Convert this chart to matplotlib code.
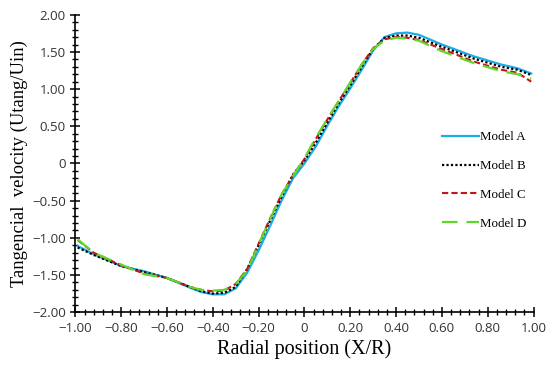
import matplotlib
matplotlib.use("Agg")
import matplotlib.pyplot as plt
from matplotlib.ticker import MultipleLocator, FuncFormatter

# Radial positions and tangential velocity
radial = [-0.99, -0.92, -0.80, -0.70, -0.60, -0.50, -0.45, -0.40, -0.35, -0.30, -0.25, -0.20,
          -0.15, -0.10, -0.05, 0.00, 0.05, 0.10, 0.15, 0.20, 0.25, 0.30, 0.35, 0.40, 0.45,
          0.50, 0.60, 0.74, 0.86, 0.93, 0.99]
model_a = [-1.11, -1.22, -1.38, -1.45, -1.54, -1.67, -1.73, -1.76, -1.76, -1.68, -1.47, -1.17,
           -0.84, -0.50, -0.20, 0.00, 0.23, 0.51, 0.77, 1.01, 1.26, 1.52, 1.70, 1.75, 1.76,
           1.73, 1.60, 1.44, 1.33, 1.28, 1.21]
model_b = [-1.13, -1.23, -1.38, -1.46, -1.54, -1.66, -1.72, -1.75, -1.74, -1.66, -1.42, -1.10,
           -0.77, -0.45, -0.15, 0.04, 0.28, 0.55, 0.81, 1.05, 1.30, 1.54, 1.69, 1.72, 1.72,
           1.69, 1.57, 1.41, 1.30, 1.26, 1.19]
model_c = [-1.03, -1.20, -1.37, -1.48, -1.54, -1.66, -1.70, -1.72, -1.71, -1.62, -1.42, -1.08,
           -0.74, -0.42, -0.16, 0.06, 0.33, 0.59, 0.84, 1.08, 1.33, 1.55, 1.67, 1.70, 1.69,
           1.66, 1.54, 1.37, 1.26, 1.22, 1.10]
model_d = [-1.02, -1.20, -1.36, -1.49, -1.54, -1.66, -1.70, -1.71, -1.70, -1.62, -1.44, -1.09,
           -0.75, -0.42, -0.17, 0.07, 0.35, 0.60, 0.84, 1.09, 1.33, 1.54, 1.655, 1.69, 1.68,
           1.65, 1.51, 1.35, 1.24, 1.20, 1.14]

labels = ["Model A", "Model B", "Model C", "Model D"]

fig = plt.figure(figsize=(5.5, 3.69), dpi=100)
ax = fig.add_axes([0.137, 0.154, 0.833, 0.806])

ax.plot(radial, model_a, color='#1aaee5', linewidth=1.6, label=labels[0])
ax.plot(radial, model_b, color='black', linestyle=(0, (1, 1)), linewidth=1.6, label=labels[1])
ax.plot(radial, model_c, color='#c0181a', linestyle=(0, (3, 1.5)), linewidth=1.5, label=labels[2])
ax.plot(radial, model_d, color='#5fd828', linestyle=(0, (7, 4)), linewidth=1.6, label=labels[3])

ax.set_xlim(-1, 1)
ax.set_ylim(-2, 2)
ax.xaxis.set_major_locator(MultipleLocator(0.2))
ax.xaxis.set_minor_locator(MultipleLocator(0.04))
ax.yaxis.set_major_locator(MultipleLocator(0.5))
ax.yaxis.set_minor_locator(MultipleLocator(0.1))


def fmt(v, pos):
    if abs(v) < 1e-9:
        return "0"
    return ("%.2f" % v).replace("-", "\u2212")


ax.xaxis.set_major_formatter(FuncFormatter(fmt))
ax.yaxis.set_major_formatter(FuncFormatter(fmt))

for s in ['top', 'right']:
    ax.spines[s].set_visible(False)
for s in ['left', 'bottom']:
    ax.spines[s].set_linewidth(1.2)

ax.tick_params(which='major', direction='inout', length=7, width=1.1,
               labelsize=9.5, labelcolor='#333333')
ax.tick_params(which='minor', direction='inout', length=4, width=1.0)
for lab in ax.get_xticklabels() + ax.get_yticklabels():
    lab.set_family('Open Sans')

ax.set_xlabel("Radial position (X/R)", family='Liberation Serif', fontsize=14.5, labelpad=3)
ax.set_ylabel("Tangencial  velocity (Utang/Uin)", family='Liberation Serif', fontsize=13.4, labelpad=3)

ax.legend(loc='center left', bbox_to_anchor=(0.774, 0.443), frameon=False,
          prop={'family': 'Liberation Serif', 'size': 9.3}, handlelength=2.9,
          handletextpad=0.1, labelspacing=1.3)

plt.savefig("out.png", dpi=100)
